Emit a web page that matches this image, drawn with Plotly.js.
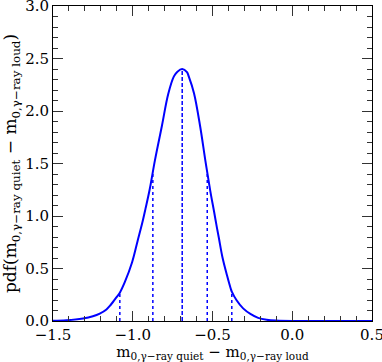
<!DOCTYPE html>
<html>
<head>
<meta charset="utf-8">
<script src="https://cdn.plot.ly/plotly-3.0.1.min.js"></script>
<style>html,body{margin:0;padding:0;background:#fff;}#chart{width:382px;height:362px;}</style>
</head>
<body>
<div id="chart"></div>
<script>
// pdf curve
const curveX = [-1.5, -1.416, -1.312, -1.25, -1.207, -1.165, -1.14, -1.10, -1.081, -1.05, -1.004, -0.97, -0.941, -0.92, -0.893, -0.861, -0.817, -0.778, -0.742, -0.72, -0.69, -0.66, -0.649, -0.616, -0.577, -0.545, -0.514, -0.49, -0.476, -0.46, -0.438, -0.41, -0.386, -0.379, -0.35, -0.308, -0.26, -0.214, -0.16, -0.1, 0.0, 0.5];
const curveY = [0.002, 0.007, 0.024, 0.045, 0.07, 0.11, 0.15, 0.23, 0.27, 0.37, 0.56, 0.76, 0.93, 1.07, 1.26, 1.53, 1.86, 2.16, 2.33, 2.375, 2.40, 2.37, 2.33, 2.17, 1.85, 1.53, 1.24, 1.04, 0.92, 0.79, 0.61, 0.44, 0.31, 0.28, 0.20, 0.12, 0.065, 0.03, 0.012, 0.004, 0.0, 0.0];
// mean (dashed) and interval edges (dotted)
const meanX = -0.69;
const meanY = 2.40;
const edgeX = [-1.081, -0.874, -0.533, -0.379];
const edgeY = [0.27, 1.42, 1.40, 0.28];
const xTicks = [-1.5, -1.0, -0.5, 0.0, 0.5];
const yTicks = [0.0, 0.5, 1.0, 1.5, 2.0, 2.5, 3.0];

const blue = '#0000ff';
const traces = [];
traces.push({x: curveX, y: curveY, mode: 'lines', line: {color: blue, width: 2, shape: 'spline', smoothing: 1}, hoverinfo: 'skip'});
traces.push({x: [meanX, meanX], y: [0, meanY], mode: 'lines', line: {color: blue, width: 1.5, dash: '4px,2px'}, hoverinfo: 'skip'});
edgeX.forEach((v, i) => {
  traces.push({x: [v, v], y: [0, edgeY[i]], mode: 'lines', line: {color: blue, width: 1.5, dash: 'dot'}, hoverinfo: 'skip'});
});

const font = {family: 'DejaVu Serif, serif', size: 15, color: '#000'};
const axisCommon = {
  showgrid: false, zeroline: false, showline: true, linecolor: '#000', linewidth: 1,
  mirror: 'allticks', ticks: 'inside', ticklen: 10, tickwidth: 1, tickcolor: '#333',
  tickfont: font, ticklabeloverflow: 'allow',
  minor: {ticks: 'inside', ticklen: 5, tickwidth: 1, tickcolor: '#333', dtick: 0.1}
};
const layout = {
  width: 382, height: 362,
  margin: {l: 53, r: 10, t: 6, b: 41},
  paper_bgcolor: '#fff', plot_bgcolor: '#fff',
  showlegend: false,
  font: font,
  xaxis: Object.assign({}, axisCommon, {
    range: [-1.5, 0.5], tickmode: 'array', tickvals: xTicks, ticktext: xTicks.map(v => (v < 0 ? '−' : '') + Math.abs(v).toFixed(1)),
    title: {text: 'm<sub>0,γ−ray quiet</sub> − m<sub>0,γ−ray loud</sub>', font: {family: 'DejaVu Serif, serif', size: 15}, standoff: 2}
  }),
  yaxis: Object.assign({}, axisCommon, {
    range: [0, 3.0], tickmode: 'array', tickvals: yTicks, ticktext: yTicks.map(v => v.toFixed(1)),
    title: {text: 'pdf(m<sub>0,γ−ray quiet</sub> − m<sub>0,γ−ray loud</sub>)', font: {family: 'DejaVu Serif, serif', size: 17}, standoff: 4}
  })
};
Plotly.newPlot('chart', traces, layout, {staticPlot: true, displayModeBar: false});
</script>
</body>
</html>
